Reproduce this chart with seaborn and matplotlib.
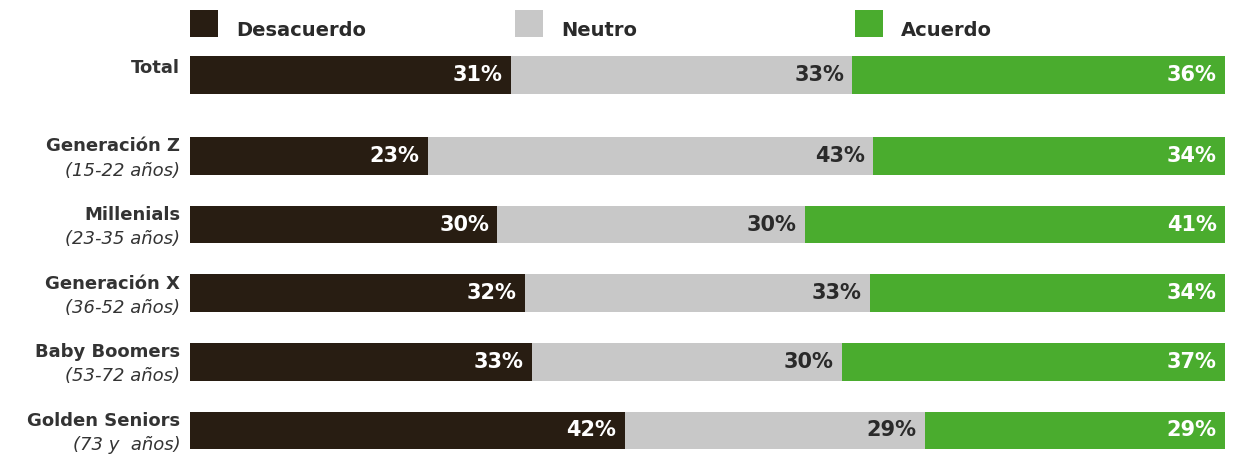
import matplotlib
matplotlib.use("Agg")
import matplotlib.pyplot as plt
import seaborn as sns
import pandas as pd
import numpy as np
from matplotlib.patches import Rectangle

groups = ["Total", "Generación Z", "Millenials", "Generación X", "Baby Boomers", "Golden Seniors"]
ages = ["", "(15-22 años)", "(23-35 años)", "(36-52 años)", "(53-72 años)", "(73 y  años)"]
desacuerdo = [31, 23, 30, 32, 33, 42]
neutro = [33, 43, 30, 33, 30, 29]
acuerdo = [36, 34, 41, 34, 37, 29]
series = ["Desacuerdo", "Neutro", "Acuerdo"]

colors = ["#281d12", "#c8c8c8", "#4aac2e"]
label_colors = ["white", "#2a2a2a", "white"]

sns.set_theme(style="white")
plt.rcParams['font.family'] = ['DejaVu Sans']

W, H = 1233, 462
fig = plt.figure(figsize=(W / 100, H / 100), dpi=100)

# row positions: extra gap after "Total"
gap = 0.18
ypos = [0.0] + [1.0 + gap + i for i in range(len(groups) - 1)]

df = pd.DataFrame({"grupo": groups, "y": ypos,
                   "d": desacuerdo, "n": neutro, "a": acuerdo})
tot = df["d"] + df["n"] + df["a"]
df["c1"] = df["d"] / tot * 100
df["c2"] = (df["d"] + df["n"]) / tot * 100
df["c3"] = 100.0 * tot / tot

px_per_unit = (430.5 - 75) / ypos[-1]
top_px = 75 - 0.45 * px_per_unit
bot_px = 430.5 + 0.45 * px_per_unit
ax = fig.add_axes([190 / W, 1 - bot_px / H, 1035 / W, (bot_px - top_px) / H])

for col, c in zip(["c3", "c2", "c1"], colors[::-1]):
    sns.barplot(data=df, x=col, y="y", orient="h", native_scale=True,
                color=c, saturation=1, width=0.55, errorbar=None,
                linewidth=0, ax=ax)

ax.set_xlim(0, 100)
ax.set_ylim(ypos[-1] + 0.45, -0.45)
ax.axis("off")

# value labels
for i, row in df.iterrows():
    ends = [row["c1"], row["c2"], row["c3"]]
    vals = [row["d"], row["n"], row["a"]]
    for e, v, lc in zip(ends, vals, label_colors):
        ax.annotate(f"{int(v)}%", xy=(e, row["y"]), xytext=(-6, 0),
                    textcoords="offset points", ha="right", va="center",
                    fontsize=15, fontweight="bold", color=lc)

# category labels
for g, a, y in zip(groups, ages, ypos):
    if a:
        ax.annotate(g, xy=(0, y), xytext=(-7, 7), textcoords="offset points",
                    ha="right", va="center", fontsize=13, fontweight="bold",
                    color="#333333", annotation_clip=False)
        ax.annotate(a, xy=(0, y), xytext=(-7, -10.5), textcoords="offset points",
                    ha="right", va="center", fontsize=13, fontstyle="italic",
                    color="#333333", annotation_clip=False)
    else:
        ax.annotate(g, xy=(0, y), xytext=(-7, 5), textcoords="offset points",
                    ha="right", va="center", fontsize=13, fontweight="bold",
                    color="#333333", annotation_clip=False)

# legend
leg_sq = [190, 515, 855]
for s, c, x0 in zip(series, colors, leg_sq):
    fig.add_artist(Rectangle((x0 / W, 1 - 37 / H), 28 / W, 27 / H,
                             transform=fig.transFigure, facecolor=c,
                             edgecolor="none"))
    fig.text((x0 + 46) / W, 1 - 30 / H, s, ha="left", va="center",
             fontsize=14, fontweight="bold", color="#2a2a2a")

fig.savefig("out.png", dpi=100, facecolor="white")
